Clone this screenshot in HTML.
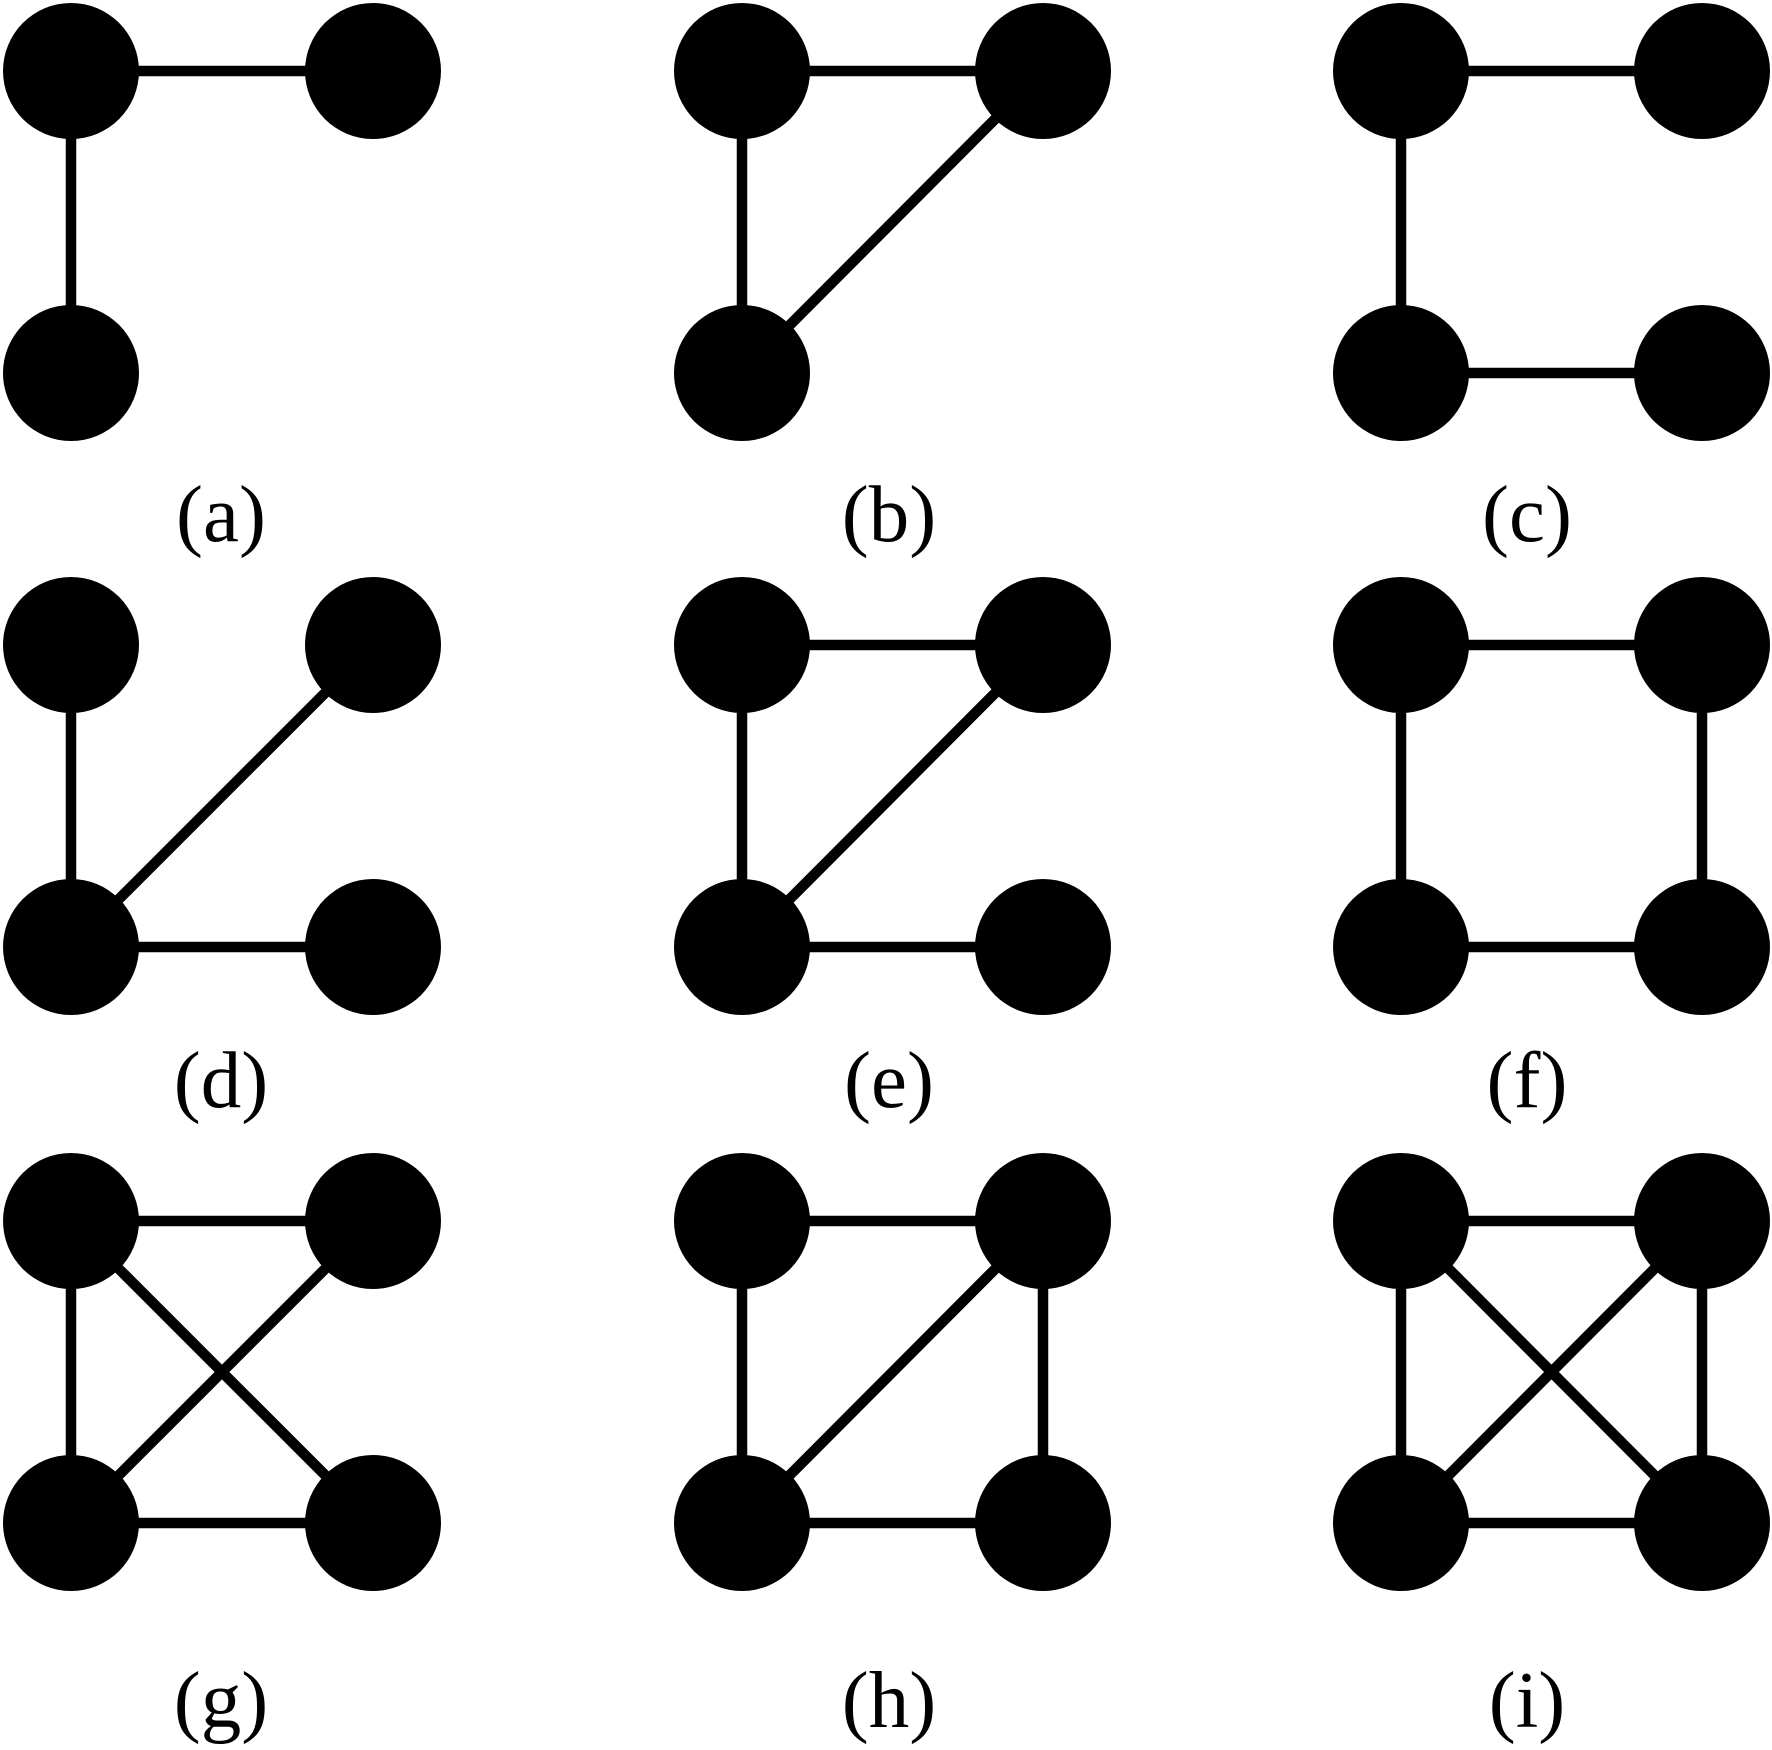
<!DOCTYPE html>
<html>
<head>
<meta charset="utf-8">
<style>
html,body{margin:0;padding:0;background:#fff;}
svg{display:block;}
text{font-family:"Liberation Serif",serif;font-size:81px;fill:#000;text-anchor:middle;}
</style>
</head>
<body>
<svg width="1772" height="1750" viewBox="0 0 1772 1750" xmlns="http://www.w3.org/2000/svg">
<rect width="1772" height="1750" fill="#fff"/>
<g stroke="#000" stroke-width="10.5" fill="none">
<!-- (a) -->
<line x1="71" y1="71" x2="373" y2="71"/>
<line x1="71" y1="71" x2="71" y2="373"/>
<!-- (b) -->
<line x1="742" y1="71" x2="1043" y2="71"/>
<line x1="742" y1="71" x2="742" y2="373"/>
<line x1="742" y1="373" x2="1043" y2="71"/>
<!-- (c) -->
<line x1="1401" y1="71" x2="1702" y2="71"/>
<line x1="1401" y1="71" x2="1401" y2="373"/>
<line x1="1401" y1="373" x2="1702" y2="373"/>
<!-- (d) -->
<line x1="71" y1="645" x2="71" y2="947"/>
<line x1="71" y1="947" x2="373" y2="645"/>
<line x1="71" y1="947" x2="373" y2="947"/>
<!-- (e) -->
<line x1="742" y1="645" x2="1043" y2="645"/>
<line x1="742" y1="645" x2="742" y2="947"/>
<line x1="742" y1="947" x2="1043" y2="645"/>
<line x1="742" y1="947" x2="1043" y2="947"/>
<!-- (f) -->
<line x1="1401" y1="645" x2="1702" y2="645"/>
<line x1="1401" y1="645" x2="1401" y2="947"/>
<line x1="1702" y1="645" x2="1702" y2="947"/>
<line x1="1401" y1="947" x2="1702" y2="947"/>
<!-- (g) -->
<line x1="71" y1="1221" x2="373" y2="1221"/>
<line x1="71" y1="1221" x2="71" y2="1523"/>
<line x1="71" y1="1221" x2="373" y2="1523"/>
<line x1="373" y1="1221" x2="71" y2="1523"/>
<line x1="71" y1="1523" x2="373" y2="1523"/>
<!-- (h) -->
<line x1="742" y1="1221" x2="1043" y2="1221"/>
<line x1="742" y1="1221" x2="742" y2="1523"/>
<line x1="1043" y1="1221" x2="742" y2="1523"/>
<line x1="1043" y1="1221" x2="1043" y2="1523"/>
<line x1="742" y1="1523" x2="1043" y2="1523"/>
<!-- (i) -->
<line x1="1401" y1="1221" x2="1702" y2="1221"/>
<line x1="1401" y1="1221" x2="1401" y2="1523"/>
<line x1="1702" y1="1221" x2="1702" y2="1523"/>
<line x1="1401" y1="1221" x2="1702" y2="1523"/>
<line x1="1702" y1="1221" x2="1401" y2="1523"/>
<line x1="1401" y1="1523" x2="1702" y2="1523"/>
</g>
<g fill="#000">
<circle cx="71" cy="71" r="68"/><circle cx="373" cy="71" r="68"/><circle cx="71" cy="373" r="68"/>
<circle cx="742" cy="71" r="68"/><circle cx="1043" cy="71" r="68"/><circle cx="742" cy="373" r="68"/>
<circle cx="1401" cy="71" r="68"/><circle cx="1702" cy="71" r="68"/><circle cx="1401" cy="373" r="68"/><circle cx="1702" cy="373" r="68"/>
<circle cx="71" cy="645" r="68"/><circle cx="373" cy="645" r="68"/><circle cx="71" cy="947" r="68"/><circle cx="373" cy="947" r="68"/>
<circle cx="742" cy="645" r="68"/><circle cx="1043" cy="645" r="68"/><circle cx="742" cy="947" r="68"/><circle cx="1043" cy="947" r="68"/>
<circle cx="1401" cy="645" r="68"/><circle cx="1702" cy="645" r="68"/><circle cx="1401" cy="947" r="68"/><circle cx="1702" cy="947" r="68"/>
<circle cx="71" cy="1221" r="68"/><circle cx="373" cy="1221" r="68"/><circle cx="71" cy="1523" r="68"/><circle cx="373" cy="1523" r="68"/>
<circle cx="742" cy="1221" r="68"/><circle cx="1043" cy="1221" r="68"/><circle cx="742" cy="1523" r="68"/><circle cx="1043" cy="1523" r="68"/>
<circle cx="1401" cy="1221" r="68"/><circle cx="1702" cy="1221" r="68"/><circle cx="1401" cy="1523" r="68"/><circle cx="1702" cy="1523" r="68"/>
</g>
<text x="221" y="541">(a)</text>
<text x="889" y="541">(b)</text>
<text x="1527" y="541">(c)</text>
<text x="221" y="1107">(d)</text>
<text x="889" y="1107">(e)</text>
<text x="1527" y="1107">(f)</text>
<text x="221" y="1727">(g)</text>
<text x="889" y="1727">(h)</text>
<text x="1527" y="1727">(i)</text>
</svg>
</body>
</html>
